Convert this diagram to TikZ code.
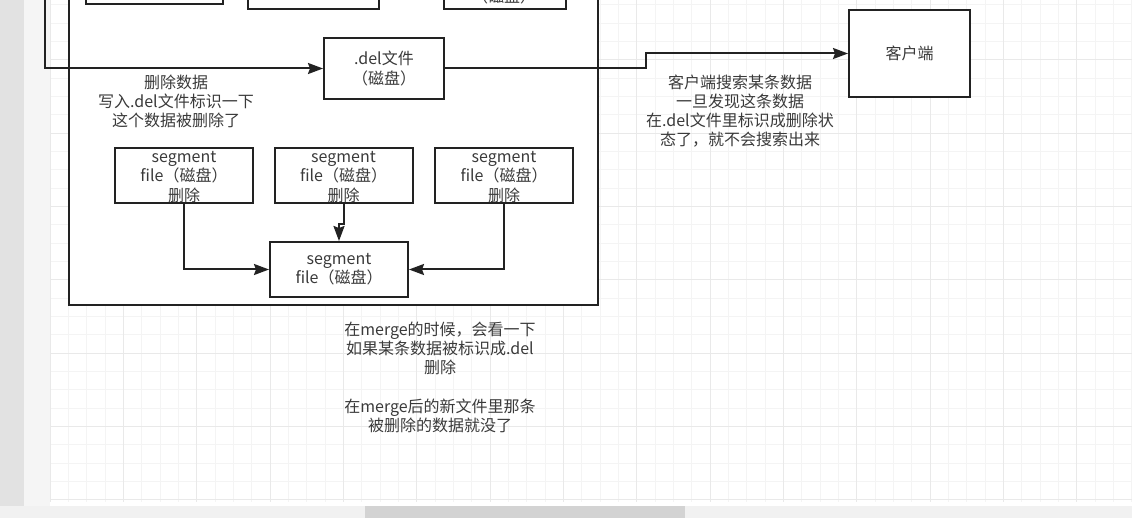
\documentclass[tikz,border=0pt]{standalone}
\usepackage{fontspec}
\setmainfont{Noto Sans CJK SC}
\usetikzlibrary{arrows.meta}

\definecolor{gridminor}{HTML}{F4F4F4}
\definecolor{gridmajor}{HTML}{E9E9E9}
\definecolor{stripdark}{HTML}{E2E2E2}
\definecolor{striplight}{HTML}{F5F5F5}
\definecolor{barcol}{HTML}{F1F1F1}
\definecolor{thumbcol}{HTML}{D3D3D3}
\definecolor{inkcol}{HTML}{222222}
\definecolor{textcol}{HTML}{3A3A3A}

\def\gridstep{18.333}

\begin{document}
\begin{tikzpicture}[x=1pt,y=-1pt,line width=2pt,draw=inkcol,
    font=\fontsize{16}{19.2}\selectfont]
    \tikzstyle{box}=[draw, rectangle, fill=white, inner sep=0pt, align=center, text=textcol]
    \tikzstyle{segbox}=[box, minimum width=138, minimum height=55]
    \tikzstyle{note}=[align=center, inner sep=0pt, text=textcol]
    \tikzstyle{flow}=[-{Stealth[length=15pt,width=11pt,inset=2pt]}]

    \useasboundingbox (0,0) rectangle (1132,518);
    \clip (0,0) rectangle (1132,518);

    % Draw the canvas with its grid
    \fill[stripdark] (0,0) rectangle (24,506);
    \fill[striplight] (24,0) rectangle (50,506);
    \foreach \i in {0,...,59}
        \draw[line width=0.6pt, draw=gridminor] ({50+\i*\gridstep},0) -- ++(0,502);
    \foreach \i in {0,...,27}
        \draw[line width=0.6pt, draw=gridminor] (50,{4.67+\i*\gridstep}) -- ++(1082,0);
    \foreach \i in {0,4,...,56}
        \draw[line width=0.6pt, draw=gridmajor] ({50+\i*\gridstep},0) -- ++(0,502);
    \foreach \i in {3,7,...,27}
        \draw[line width=0.6pt, draw=gridmajor] (50,{4.67+\i*\gridstep}) -- ++(1082,0);
    \fill[barcol] (0,506) rectangle (1132,518);
    \fill[thumbcol] (365,506) rectangle (685,518);

    % Draw the container (its top is cut off)
    \node[box, minimum width=529, minimum height=380, anchor=south west] (frame) at (68,306) {};

    % Draw the top row of boxes (cut off)
    \node[box, minimum width=137, minimum height=60, anchor=south west] (T-1) at (85,5) {};
    \node[box, minimum width=131, minimum height=60, anchor=south west] (T-2) at (247,10) {};
    \node[box, minimum width=122, minimum height=60, anchor=south west] (T-3) at (443,10) {};
    \node[note] (T-3-t) at (504,-4) {（磁盘）};

    % Draw the .del file and the client
    \node[box, minimum width=120, minimum height=61] (del) at (384,68.5) {.del文件\\（磁盘）};
    \node[box, minimum width=121, minimum height=87] (client) at (909.5,53.5) {客户端};
    \coordinate (feed) at (45,-20);

    % Draw the segment files
    \foreach \name / \x in {A/184, B/343.5, C/504}
        \node[segbox] (S-\name) at (\x,175.5) {};
    \node[segbox] (M) at (339,269.5) {segment\\file（磁盘）};

    % Connect the boxes
    \draw[flow] (feed) |- (del.west);
    \draw[flow] (del.east) -- ++(201,0) |- (client.west);
    \draw[flow] (S-A.south) |- (M.west);
    \draw[flow] (S-B.south) -- ++(0,20) -| (M.north);
    \draw[flow] (S-C.south) |- (M.east);

    % Texts of the segment files run over their lower edge
    \foreach \name / \x in {A/184, B/343.5, C/504}
        \node[note] (S-\name-t) at (\x,177) {segment\\file（磁盘）\\删除};

    % Annotate
    \node[note] (del-note) at (176,101.5) {删除数据\\写入.del文件标识一下\\这个数据被删除了};
    \node[note] (client-note) at (740,111) {客户端搜索某条数据\\一旦发现这条数据\\在.del文件里标识成删除状\\态了，就不会搜索出来};
    \node[note] (merge-note) at (440,377.5) {在merge的时候，会看一下\\如果某条数据被标识成.del\\删除\\\mbox{}\\在merge后的新文件里那条\\被删除的数据就没了};
\end{tikzpicture}
\end{document}
